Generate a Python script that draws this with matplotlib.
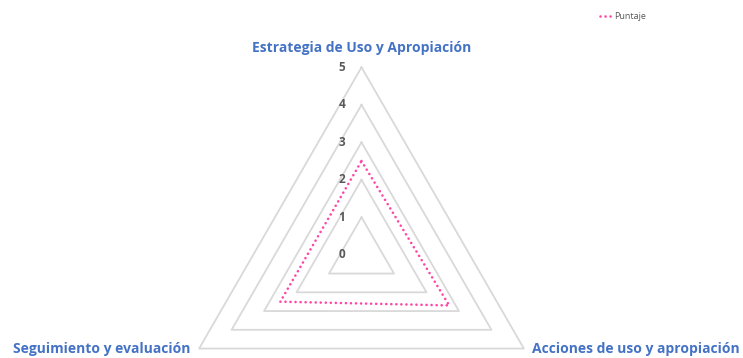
import numpy as np
import matplotlib.pyplot as plt

categorias = ["Estrategia de Uso y Apropiación", "Acciones de uso y apropiación", "Seguimiento y evaluación"]
puntaje = [2.5, 2.7, 2.5]
niveles = [0, 1, 2, 3, 4, 5]
serie = "Puntaje"

azul = "#4472c4"
rosa = "#ff45a5"
gris = "#d9d9d9"

plt.rcParams['font.family'] = ['Open Sans', 'DejaVu Sans']

fig = plt.figure(figsize=(7.43, 3.58), dpi=100)
# eje polar cuadrado en pixeles, centro en (361.5, 254.8)
ax = fig.add_axes([174 / 743, (358 - 442.3) / 358, 375 / 743, 375 / 358], projection='polar')
ax.set_theta_offset(np.pi / 2)
ax.set_theta_direction(-1)
ax.set_ylim(0, 5)
ax.grid(False)
ax.spines['polar'].set_visible(False)
ax.set_xticks([])
ax.set_yticks([])
ax.patch.set_alpha(0)

n = len(categorias)
ang = np.linspace(0, 2 * np.pi, n, endpoint=False)
ang_c = np.append(ang, ang[0])

# triangulos de la rejilla
for v in niveles[1:]:
    ax.plot(ang_c, [v] * (n + 1), color=gris, lw=1.3, clip_on=False, zorder=1)

# serie
vals = np.append(puntaje, puntaje[0])
linea, = ax.plot(ang_c, vals, color=rosa, lw=1.9, linestyle=(0, (0.01, 1.9)),
                 dash_capstyle='round', clip_on=False, zorder=3, label=serie)

# etiquetas del eje
for v in niveles:
    ax.annotate(str(v), xy=(0, v), xytext=(-14, 0), textcoords='offset points',
                ha='center', va='center', fontsize=8.5, fontweight='bold', color='#595959',
                annotation_clip=False)

# etiquetas de categorias
offs = [((0, 14), 'center', 'center'), ((5.5, 0), 'left', 'center'), ((-6, 0), 'right', 'center')]
for a, txt, (o, ha, va) in zip(ang, categorias, offs):
    ax.annotate(txt, xy=(a, 5), xytext=o, textcoords='offset points', ha=ha, va=va,
                fontsize=10, fontweight='bold', color=azul, annotation_clip=False)

fig.legend(handles=[linea], loc='upper left', bbox_to_anchor=(592 / 743, 0.99), frameon=False,
           fontsize=6.5, labelcolor='#595959', handlelength=1.3, handletextpad=0.3)

fig.savefig("out.png", dpi=100)
